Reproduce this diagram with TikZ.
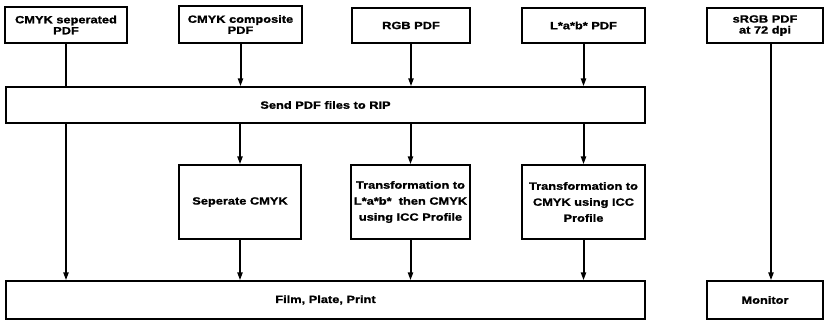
\documentclass[tikz,border=0pt]{standalone}
\usepackage{fontspec}
\setmainfont{Liberation Sans}[FakeStretch=1.22, BoldFeatures={FakeBold=1.2}]
\usetikzlibrary{arrows.meta}
\tikzset{
  box/.style={draw=black, line width=1.2pt, fill=white, inner sep=0pt, align=center,
    font=\fontsize{10.5}{11}\selectfont\bfseries},
  midbox/.style={box, font=\fontsize{10.5}{16}\selectfont\bfseries},
  conn/.style={draw=black, line width=2pt},
  arr/.style={conn, -{Triangle[length=8pt,width=5pt]}},
}
\begin{document}
\begin{tikzpicture}[x=1pt,y=-1pt]
\useasboundingbox (0,0) rectangle (827,320);
% top row
\node[box, minimum width=122pt, minimum height=36pt] (sep)  at (66,25)   {CMYK seperated\\PDF};
\node[box, minimum width=123pt, minimum height=37pt] (comp) at (240.5,24.5) {CMYK composite\\PDF};
\node[box, minimum width=118pt, minimum height=35pt] (rgb)  at (411,25.5) {RGB PDF};
\node[box, minimum width=123pt, minimum height=35pt] (lab)  at (583.5,25.5) {L*a*b* PDF};
\node[box, minimum width=116pt, minimum height=35pt] (srgb) at (765,25.5) {sRGB PDF\\at 72 dpi};
% RIP
\node[box, minimum width=639pt, minimum height=36pt] (send) at (325.5,105) {Send PDF files to RIP};
% middle row
\node[midbox, minimum width=122pt, minimum height=74pt] (sepc)  at (240,202) {Seperate CMYK};
\node[midbox, minimum width=119pt, minimum height=74pt] (tlab)  at (410.5,202) {Transformation to\\L*a*b*\ \ then CMYK\\using ICC Profile};
\node[midbox, minimum width=123pt, minimum height=74pt] (tcmyk) at (583.5,202) {Transformation to\\CMYK using ICC\\Profile};
% bottom row
\node[box, minimum width=639pt, minimum height=38pt] (film) at (325.5,300) {Film, Plate, Print};
\node[box, minimum width=116pt, minimum height=38pt] (mon)  at (765,300) {Monitor};
% connectors
\draw[conn] (sep.south) -- (sep.south |- send.north);
\draw[arr] (sep.south |- send.south) -- (sep.south |- film.north);
\draw[arr] (comp.south) -- (comp.south |- send.north);
\draw[arr] (rgb.south) -- (rgb.south |- send.north);
\draw[arr] (lab.south) -- (lab.south |- send.north);
\draw[arr] (sepc.north |- send.south) -- (sepc.north);
\draw[arr] (tlab.north |- send.south) -- (tlab.north);
\draw[arr] (tcmyk.north |- send.south) -- (tcmyk.north);
\draw[arr] (sepc.south) -- (sepc.south |- film.north);
\draw[arr] (tlab.south) -- (tlab.south |- film.north);
\draw[arr] (tcmyk.south) -- (tcmyk.south |- film.north);
\draw[arr] ([xshift=6pt]srgb.south) -- ([xshift=6pt]srgb.south |- mon.north);
\end{tikzpicture}
\end{document}
